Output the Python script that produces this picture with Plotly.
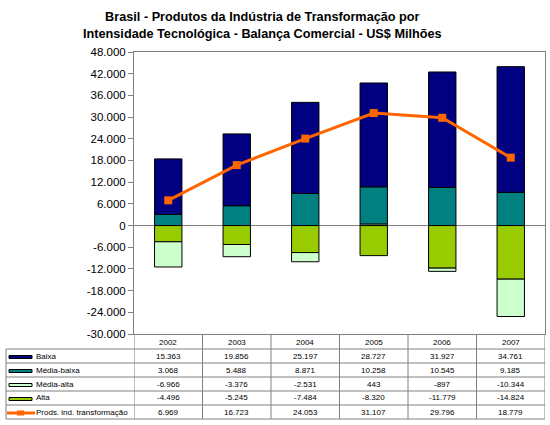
import plotly.graph_objects as go

years = ["2002", "2003", "2004", "2005", "2006", "2007"]
baixa = [15363, 19856, 25197, 28727, 31927, 34761]
media_baixa = [3068, 5488, 8871, 10258, 10545, 9185]
media_alta = [-6966, -3376, -2531, 443, -897, -10344]
alta = [-4496, -5245, -7484, -8320, -11779, -14824]
prods = [6969, 16723, 24053, 31107, 29796, 18779]

series_names = ["Baixa", "Média-baixa", "Média-alta", "Alta", "Prods. ind. transformação"]
y_ticks = list(range(-30000, 48001, 6000))

C_BAIXA = "#000080"
C_MB = "#008080"
C_MA = "#CCFFCC"
C_ALTA = "#99CC00"
C_LINE = "#FF6600"
GRAY = "#808080"

def fmt(v):
    s = f"{abs(v):,}".replace(",", ".")
    return ("-" if v < 0 else "") + s

W, H = 550, 425
PL, PR, PT, PB = 134, 545, 52, 334

def py(p):
    return (PB - p) / (PB - PT)

def px(p):
    return (p - PL) / (PR - PL)

fig = go.Figure()
bar_common = dict(width=0.4, marker_line=dict(color="black", width=1), showlegend=False)
fig.add_trace(go.Bar(x=years, y=alta, name="Alta", marker_color=C_ALTA, **bar_common))
fig.add_trace(go.Bar(x=years, y=media_alta, name="Média-alta", marker_color=C_MA, **bar_common))
fig.add_trace(go.Bar(x=years, y=media_baixa, name="Média-baixa", marker_color=C_MB, **bar_common))
fig.add_trace(go.Bar(x=years, y=baixa, name="Baixa", marker_color=C_BAIXA, **bar_common))
fig.add_trace(go.Scatter(x=years, y=prods, name="Prods. ind. transformação", mode="lines+markers",
                         line=dict(color=C_LINE, width=3),
                         marker=dict(symbol="square", size=8, color=C_LINE), showlegend=False))

font_tab = dict(family="Liberation Sans, Arial", size=8, color="black")
annotations = []
shapes = []

# title
annotations.append(dict(
    text="<b>Brasil - Produtos da Indústria de Transformação por<br>Intensidade Tecnológica - Balança Comercial - US$ Milhões</b>",
    x=px(262), xref="paper", y=py(8), yref="paper", xanchor="center", yanchor="top", showarrow=False,
    font=dict(family="Liberation Sans, Arial", size=12.7, color="black")))

# header years
for i, yr in enumerate(years):
    annotations.append(dict(x=i, xref="x", y=py(342), yref="paper", text=yr, showarrow=False,
                            font=font_tab, xanchor="center", yanchor="middle"))

row_tops = [349, 363, 377, 391, 405]
row_h = 14
table_rows = [baixa, media_baixa, media_alta, alta, prods]
for r, (name, vals) in enumerate(zip(series_names, table_rows)):
    yc = row_tops[r] + row_h / 2
    for i, v in enumerate(vals):
        annotations.append(dict(x=i, xref="x", y=py(yc), yref="paper", text=fmt(v), showarrow=False,
                                font=font_tab, xanchor="center", yanchor="middle"))
    annotations.append(dict(x=px(34), xref="paper", y=py(yc), yref="paper", text=name, showarrow=False,
                            font=font_tab, xanchor="left", yanchor="middle"))

# horizontal table lines
for p in row_tops + [row_tops[-1] + row_h]:
    shapes.append(dict(type="line", xref="paper", yref="paper", x0=px(6), x1=px(PR), y0=py(p), y1=py(p),
                       line=dict(color=GRAY, width=1)))
# vertical table lines
shapes.append(dict(type="line", xref="paper", yref="paper", x0=px(6), x1=px(6),
                   y0=py(349), y1=py(419), line=dict(color=GRAY, width=1)))
for k in range(len(years) + 1):
    xb = k - 0.5
    shapes.append(dict(type="line", xref="x", yref="paper", x0=xb, x1=xb,
                       y0=py(334), y1=py(419), line=dict(color=GRAY, width=1)))

# legend keys
key_cols = [C_BAIXA, C_MB, C_MA, C_ALTA]
for r, c in enumerate(key_cols):
    yc = row_tops[r] + row_h / 2 + 1
    shapes.append(dict(type="rect", xref="paper", yref="paper", x0=px(9), x1=px(32),
                       y0=py(yc + 1.5), y1=py(yc - 1.5), fillcolor=c, line=dict(color="black", width=1)))
yc = row_tops[4] + row_h / 2 + 1
shapes.append(dict(type="line", xref="paper", yref="paper", x0=px(7), x1=px(35),
                   y0=py(yc), y1=py(yc), line=dict(color=C_LINE, width=3)))
shapes.append(dict(type="rect", xref="paper", yref="paper", x0=px(17), x1=px(24),
                   y0=py(yc + 2.5), y1=py(yc - 2.5), fillcolor=C_LINE, line=dict(color=C_LINE, width=0)))

fig.update_layout(
    width=W, height=H,
    margin=dict(l=PL, r=W - PR, t=PT, b=H - PB, pad=0),
    barmode="relative",
    plot_bgcolor="white", paper_bgcolor="white",
    font=dict(family="Liberation Sans, Arial", color="black"),
    xaxis=dict(type="category", range=[-0.5, 5.5], showticklabels=False, ticks="",
               showline=True, linecolor=GRAY, linewidth=1, mirror=True, showgrid=False, zeroline=False),
    yaxis=dict(range=[-30000, 48000], tickvals=y_ticks, ticktext=[fmt(v) for v in y_ticks],
               ticks="outside", ticklen=5, tickcolor=GRAY, showline=True, linecolor=GRAY, linewidth=1,
               mirror=True, showgrid=False, zeroline=True, zerolinecolor=GRAY, zerolinewidth=1,
               tickfont=dict(family="Liberation Sans, Arial", size=11.5, color="black")),
    annotations=annotations,
    shapes=shapes,
)

fig.write_html("out.html", config={"displayModeBar": False},
               post_script="document.body.style.margin='0px';")
